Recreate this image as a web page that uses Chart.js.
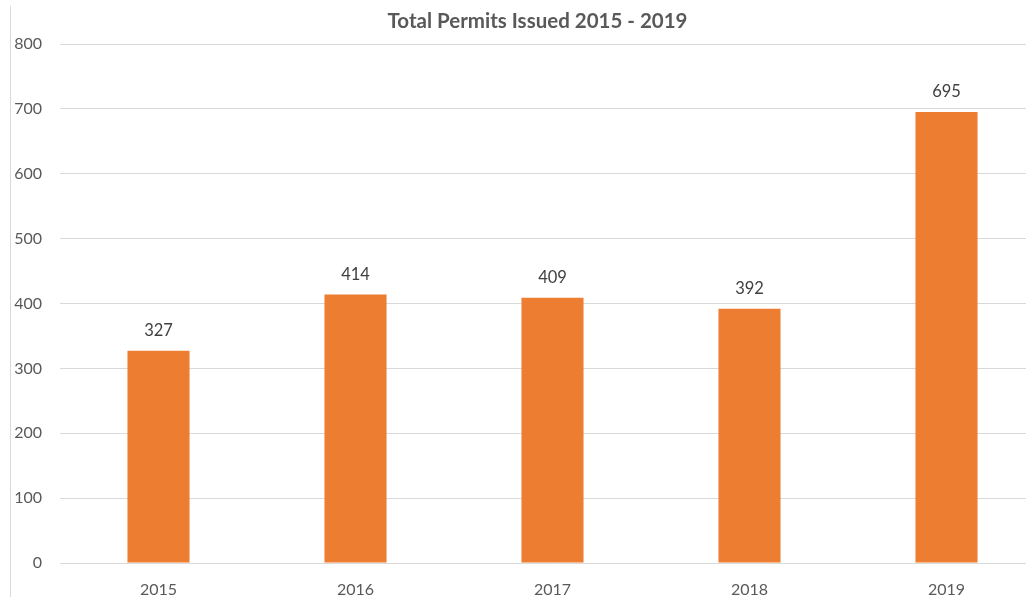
<!DOCTYPE html>
<html>
<head>
<meta charset="utf-8">
<script src="https://cdn.jsdelivr.net/npm/chart.js@4"></script>
<style>
  html, body { margin: 0; padding: 0; background: #fff; overflow: hidden; }
  #wrap { position: relative; width: 1026px; height: 597px; overflow: hidden; }
  #edge { position: absolute; left: 10px; top: 6px; bottom: 0; border-left: 1px solid #d9d9d9; }
  #permits_chart { position: absolute; left: 0; top: 0; }
</style>
</head>
<body>
<div id="wrap">
  <div id="edge"></div>
  <canvas id="permits_chart" width="1045" height="597" style="width:1045px;height:597px"></canvas>
</div>
<script>
const years = ["2015", "2016", "2017", "2018", "2019"];
const permits = [327, 414, 409, 392, 695];
const yTicks = [0, 100, 200, 300, 400, 500, 600, 700, 800];
const chartTitle = "Total Permits Issued 2015 - 2019";

const textGray = "#595959";
const fontName = "Lato, 'Open Sans', sans-serif";

// values over the bars + the title (drawn by hand so it can sit off-centre like the original)
const barLabels = {
  id: "barLabels",
  afterDatasetsDraw(chart) {
    const ctx = chart.ctx;
    const meta = chart.getDatasetMeta(0);
    ctx.save();
    ctx.font = "16.5px " + fontName;
    ctx.fillStyle = "#404040";
    ctx.textAlign = "center";
    ctx.textBaseline = "middle";
    meta.data.forEach((bar, i) => {
      ctx.fillText(permits[i], bar.x, bar.y - 20);
    });

    ctx.font = "bold 20.5px " + fontName;
    ctx.fillStyle = textGray;
    ctx.fillText(chartTitle, (chart.chartArea.left + chart.chartArea.right) / 2 - 15, 21);
    ctx.restore();
  }
};

const ctxPermits = document.getElementById("permits_chart");
new Chart(ctxPermits, {
  type: "bar",
  data: {
    labels: years,
    datasets: [{
      data: permits,
      backgroundColor: "#ED7D31",
      borderWidth: 0,
      categoryPercentage: 1,
      barPercentage: 0.315
    }]
  },
  options: {
    responsive: false,
    animation: false,
    devicePixelRatio: 1,
    layout: { padding: { left: 0, right: 0, top: 44, bottom: 0 } },
    plugins: {
      legend: { display: false },
      tooltip: { enabled: false },
      title: { display: false }
    },
    scales: {
      x: {
        grid: { display: false, drawTicks: false },
        border: { display: false },
        ticks: { color: textGray, font: { family: fontName, size: 16 }, padding: 17 },
        afterFit(scale) { scale.height = 34; }
      },
      y: {
        min: 0,
        max: 800,
        afterBuildTicks(scale) { scale.ticks = yTicks.map(v => ({ value: v })); },
        grid: { color: "#d9d9d9", drawTicks: false, lineWidth: 1 },
        border: { display: false },
        ticks: { color: textGray, font: { family: fontName, size: 16 }, padding: 18 },
        afterFit(scale) { scale.width = 60; }
      }
    }
  },
  plugins: [barLabels]
});
</script>
</body>
</html>
